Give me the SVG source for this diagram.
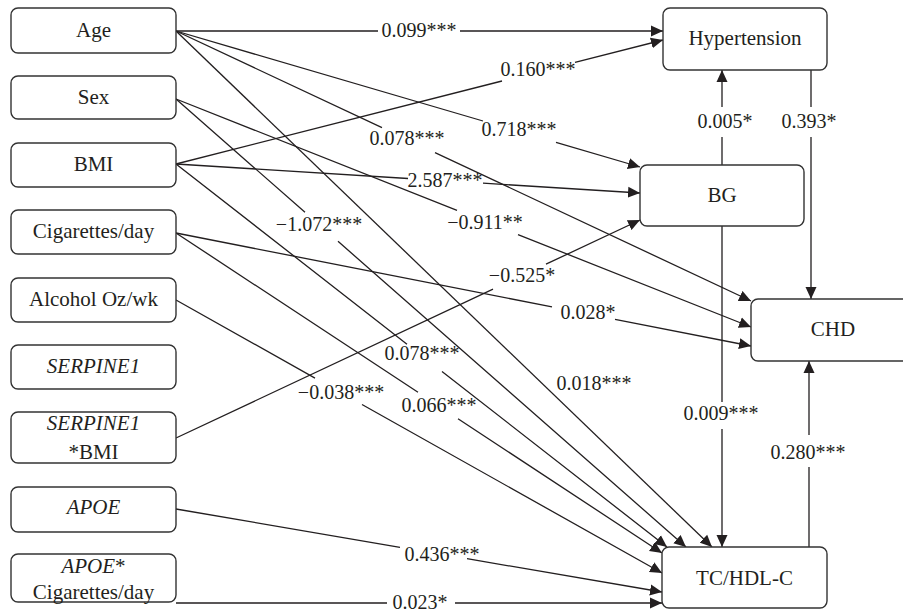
<svg xmlns="http://www.w3.org/2000/svg" width="903" height="612" viewBox="0 0 903 612">
<defs>
<marker id="arr" viewBox="0 0 12 12" refX="12" refY="6" markerWidth="12" markerHeight="12" markerUnits="userSpaceOnUse" orient="auto"><path d="M0,0.5 L12,6 L0,11.5 Z" fill="#231f20"/></marker>
</defs>
<style>
.box{fill:#fff;stroke:#333;stroke-width:1.4}
.nt{font-family:"Liberation Serif","Times New Roman",serif;font-size:21px;fill:#231f20;text-anchor:middle}
.it{font-style:italic}
.e{fill:none;stroke:#231f20;stroke-width:1.3;marker-end:url(#arr)}
.lb{font-family:"Liberation Serif","Times New Roman",serif;font-size:20px;fill:#231f20;text-anchor:middle}
</style>
<rect width="903" height="612" fill="#fff"/>
<g id="connectors">
<path class="e" d="M176,31 H378 M460,31 H663"/>
<path class="e" d="M176,164 L502,81 M575,62.4 L663,40"/>
<path class="e" d="M176,31 L483,121 M556,142.4 L640,167"/>
<path class="e" d="M176,164 L408,178.5 M483,183.2 L640,193"/>
<path class="e" d="M176,438 L493,289.1 M546,264.2 L640,220"/>
<path class="e" d="M722,165 V137 M722,107 V70"/>
<path class="e" d="M176,31 L382,127.7 M435,152.6 L751,301"/>
<path class="e" d="M176,99 L457,210.4 M518,234.6 L751,327"/>
<path class="e" d="M176,233 L552,306.9 M615,319.3 L751,346"/>
<path class="e" d="M811,70 V107 M811,137 V299"/>
<path class="e" d="M809,547 V467 M809,435 V361"/>
<path class="e" d="M176,31 L712,547"/>
<path class="e" d="M176,99 L305,212.3 M338,241.3 L686,547"/>
<path class="e" d="M176,164 L407,344.2 M442,371.5 L667,547"/>
<path class="e" d="M176,233 L418,392.3 M458,418.7 L662,553"/>
<path class="e" d="M176,300 L315,378.1 M362,404.5 L662,573"/>
<path class="e" d="M176,509 L400,547.3 M467,558.7 L662,592"/>
<path class="e" d="M176,603 H387 M455,603 H662"/>
<path class="e" d="M722,226 V402 M722,429 V547"/>
</g>
<g id="edge-labels">
<text class="lb" x="419" y="37">0.099***</text>
<text class="lb" x="538" y="76">0.160***</text>
<text class="lb" x="519" y="136">0.718***</text>
<text class="lb" x="407" y="145">0.078***</text>
<text class="lb" x="445" y="187">2.587***</text>
<text class="lb" x="485" y="229">−0.911**</text>
<text class="lb" x="319" y="231">−1.072***</text>
<text class="lb" x="422" y="360">0.078***</text>
<text class="lb" x="439" y="412">0.066***</text>
<text class="lb" x="341" y="399">−0.038***</text>
<text class="lb" x="522" y="282">−0.525*</text>
<text class="lb" x="588" y="319">0.028*</text>
<text class="lb" x="594" y="390">0.018***</text>
<text class="lb" x="442" y="561">0.436***</text>
<text class="lb" x="420" y="609">0.023*</text>
<text class="lb" x="725" y="128">0.005*</text>
<text class="lb" x="809" y="128">0.393*</text>
<text class="lb" x="721" y="420">0.009***</text>
<text class="lb" x="808" y="459">0.280***</text>
</g>
<g id="age"><rect class="box" x="11" y="8" width="165" height="45" rx="7"/><text class="nt" x="93.5" y="37">Age</text></g>
<g id="sex"><rect class="box" x="11" y="76" width="165" height="43" rx="7"/><text class="nt" x="93.5" y="104">Sex</text></g>
<g id="bmi"><rect class="box" x="11" y="143" width="165" height="44" rx="7"/><text class="nt" x="93.5" y="171">BMI</text></g>
<g id="cigarettes"><rect class="box" x="11" y="210" width="165" height="44" rx="7"/><text class="nt" x="93.5" y="238">Cigarettes/day</text></g>
<g id="alcohol"><rect class="box" x="11" y="278" width="165" height="44" rx="7"/><text class="nt" x="93.5" y="306">Alcohol Oz/wk</text></g>
<g id="serpine1"><rect class="box" x="11" y="345" width="165" height="44" rx="7"/><text class="nt it" x="93.5" y="373">SERPINE1</text></g>
<g id="serpine1-bmi"><rect class="box" x="11" y="412" width="165" height="51" rx="7"/><text class="nt" x="93.5" y="430"><tspan class="it">SERPINE1</tspan></text><text class="nt" x="93.5" y="459">*BMI</text></g>
<g id="apoe"><rect class="box" x="11" y="487" width="165" height="45" rx="7"/><text class="nt it" x="93.5" y="514">APOE</text></g>
<g id="apoe-cig"><rect class="box" x="11" y="554" width="165" height="48" rx="7"/><text class="nt" x="93.5" y="573"><tspan class="it">APOE</tspan>*</text><text class="nt" x="93.5" y="599">Cigarettes/day</text></g>
<g id="hypertension"><rect class="box" x="663" y="8" width="164" height="62" rx="7"/><text class="nt" x="745" y="45">Hypertension</text></g>
<g id="bg"><rect class="box" x="640" y="165" width="164" height="61" rx="7"/><text class="nt" x="722" y="202">BG</text></g>
<g id="chd"><rect class="box" x="751" y="299" width="164" height="62" rx="7"/><text class="nt" x="833" y="336">CHD</text></g>
<g id="tc-hdl"><rect class="box" x="662" y="547" width="165" height="61" rx="7"/><text class="nt" x="744.5" y="585">TC/HDL-C</text></g>
</svg>
